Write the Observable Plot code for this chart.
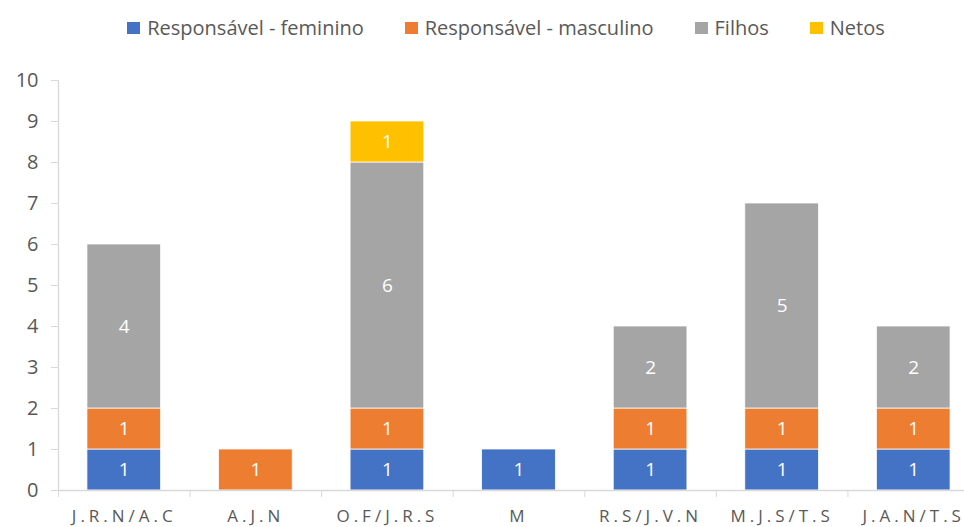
<!DOCTYPE html>
<html>
<head>
<meta charset="utf-8">
<script src="https://cdn.jsdelivr.net/npm/d3@7"></script>
<script src="https://cdn.jsdelivr.net/npm/@observablehq/plot@0.6"></script>
<style>
  html, body { margin: 0; padding: 0; background: #fff; overflow: hidden; }
  body { width: 964px; height: 527px; font-family: "Open Sans", sans-serif; }
  #legend { height: 55px; display: flex; justify-content: center; align-items: center; gap: 41px; color: #595959; font-size: 20px; padding-left: 48px; box-sizing: border-box; }
  #legend .item { display: flex; align-items: center; }
  #legend .sw { width: 13px; height: 12px; margin-right: 7px; }
  svg { overflow: visible; display: block; }
</style>
</head>
<body>
<div id="legend"></div>
<div id="chart"></div>
<script>
const categories = ["J.R.N/A.C", "A.J.N", "O.F/J.R.S", "M", "R.S/J.V.N", "M.J.S/T.S", "J.A.N/T.S"];
const seriesNames = ["Responsável - feminino", "Responsável - masculino", "Filhos", "Netos"];
const feminino  = [1, 0, 1, 1, 1, 1, 1];
const masculino = [1, 1, 1, 0, 1, 1, 1];
const filhos    = [4, 0, 6, 0, 2, 5, 2];
const netos     = [0, 0, 1, 0, 0, 0, 0];
const colors = ["#4472C4", "#ED7D31", "#A5A5A5", "#FFC000"];
const yTicks = [0, 1, 2, 3, 4, 5, 6, 7, 8, 9, 10];

const seriesValues = [feminino, masculino, filhos, netos];
const rows = [];
categories.forEach((c, i) => {
  let acc = 0;
  seriesValues.forEach((vals, s) => {
    const v = vals[i];
    if (v > 0) rows.push({i, category: c, series: seriesNames[s], value: v, y1: acc, y2: acc + v});
    acc += v;
  });
});

const legend = document.getElementById("legend");
seriesNames.forEach((n, s) => {
  const it = document.createElement("div");
  it.className = "item";
  it.innerHTML = `<span class="sw" style="background:${colors[s]}"></span><span>${n}</span>`;
  legend.appendChild(it);
});

const boundaries = d3.range(categories.length + 1);

const chart = Plot.plot({
  width: 964,
  height: 472,
  marginTop: 25,
  marginBottom: 37,
  marginLeft: 58,
  marginRight: -15,
  style: {fontFamily: "Open Sans, sans-serif", color: "#595959", background: "#fff"},
  x: {domain: [0, categories.length], axis: null},
  y: {domain: [0, 10], axis: null},
  color: {domain: seriesNames, range: colors},
  marks: [
    Plot.rectY(rows, {x1: d => d.i + 0.22, x2: d => d.i + 0.78, y1: "y1", y2: "y2", fill: "series", stroke: "white", strokeWidth: 0.75}),
    Plot.text(rows, {x: d => d.i + 0.5, y: d => (d.y1 + d.y2) / 2, text: d => String(d.value), fill: "white", fontSize: 19}),
    Plot.ruleY([0], {stroke: "#d9d9d9", strokeWidth: 1.3}),
    Plot.ruleX([0], {y1: 0, y2: 10, stroke: "#d9d9d9", strokeWidth: 1.3}),
    Plot.axisY({ticks: yTicks, tickSize: 7, tickPadding: 13, fontSize: 20, stroke: "#d9d9d9", fill: "#595959", label: null}),
    Plot.axisX({ticks: boundaries, tickSize: 7, tickFormat: () => "", stroke: "#d9d9d9", label: null}),
    Plot.text(categories, {x: (d, i) => i + 0.5, frameAnchor: "bottom", dy: 26, lineAnchor: "middle", text: d => d, fontSize: 17, fill: "#595959"})
  ]
});
const textGroups = chart.querySelectorAll('g[aria-label="text"]');
const catGroup = textGroups[textGroups.length - 1];
catGroup.querySelectorAll("text").forEach(t => t.setAttribute("letter-spacing", "4"));
document.getElementById("chart").appendChild(chart);
</script>
</body>
</html>
